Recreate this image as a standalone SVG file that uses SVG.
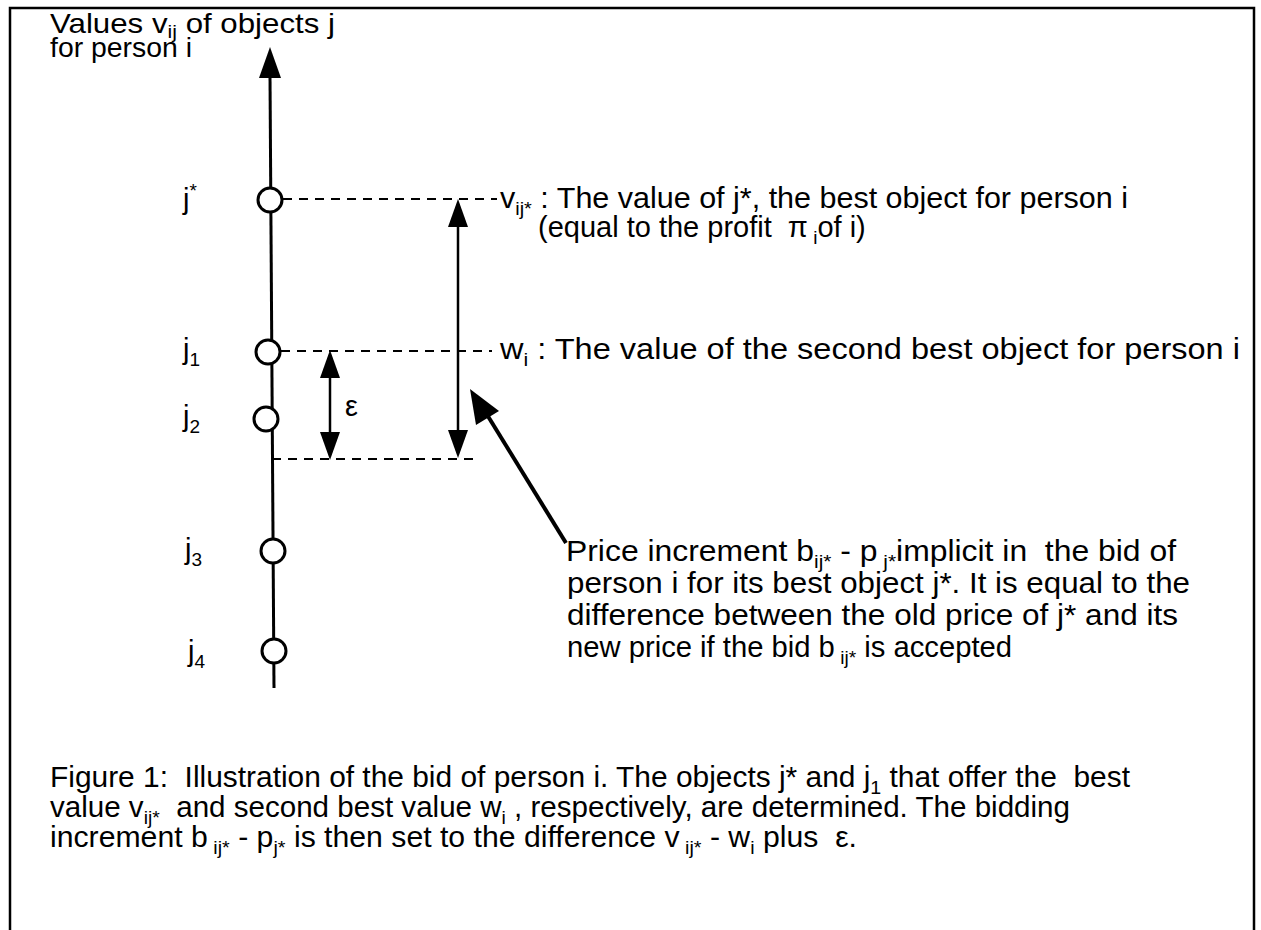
<svg xmlns="http://www.w3.org/2000/svg" width="1261" height="930" viewBox="0 0 1261 930">
<style>
text{font-family:"Liberation Sans",Arial,sans-serif;font-size:29px;fill:#000;white-space:pre}
.t{font-size:28px}
.s{font-size:19px}
.ax{stroke:#000;stroke-width:3;fill:none}
.dash{stroke:#000;stroke-width:2;stroke-dasharray:9 7;fill:none}
.node{fill:#fff;stroke:#000;stroke-width:3}
.ar{stroke:#000;stroke-width:2.5;fill:none}
</style>
<rect x="0" y="0" width="1261" height="930" fill="#fff"/>
<path d="M10,935 V8 H1254 V935" fill="none" stroke="#000" stroke-width="2.5"/>
<g id="title"><text class="t" x="50" y="33" textLength="285" lengthAdjust="spacingAndGlyphs">Values v<tspan class="s" dy="5">ij</tspan><tspan dy="-5"> of objects j</tspan></text><text class="t" x="50" y="57" textLength="142" lengthAdjust="spacingAndGlyphs">for person i</text></g>
<g id="connectors">
<path class="ax" d="M270,76 L274,688"/>
<path d="M259,78 L270,47 L281,78 Z" fill="#000"/>
<path class="dash" d="M283,199 H497"/>
<path class="dash" d="M281,351 H492"/>
<path class="dash" d="M272,459 H476"/>
<path class="ar" d="M458,225 V432"/>
<path d="M448,227 L458,199 L468,227 Z" fill="#000"/>
<path d="M448,430 L458,458 L468,430 Z" fill="#000"/>
<path class="ar" d="M330,376 V434"/>
<path d="M320,378 L330,350 L340,378 Z" fill="#000"/>
<path d="M320,432 L330,460 L340,432 Z" fill="#000"/>
<path d="M566,543 L486,413" stroke="#000" stroke-width="4" fill="none"/>
<path d="M470,389 L476,425 L499,411 Z" fill="#000"/>
</g>
<g id="n-jstar"><circle class="node" cx="270" cy="200" r="12"/><text x="183" y="209">j<tspan class="s" dy="-12">*</tspan></text></g>
<g id="n-j1"><circle class="node" cx="268" cy="352" r="12"/><text x="183" y="359">j<tspan class="s" dy="7">1</tspan></text></g>
<g id="n-j2"><circle class="node" cx="266" cy="419" r="12"/><text x="183" y="426">j<tspan class="s" dy="7">2</tspan></text></g>
<g id="n-j3"><circle class="node" cx="273" cy="551" r="12"/><text x="185" y="559">j<tspan class="s" dy="7">3</tspan></text></g>
<g id="n-j4"><circle class="node" cx="274" cy="651" r="12"/><text x="188" y="661">j<tspan class="s" dy="7">4</tspan></text></g>
<g id="labels">
<text x="500" y="208" textLength="628" lengthAdjust="spacingAndGlyphs">v<tspan class="s" dy="7">ij*</tspan><tspan dy="-7"> : The value of j*, the best object for person i</tspan></text>
<text x="538" y="237">(equal to the profit  π<tspan class="s" dy="7"> i</tspan><tspan dy="-7">of i)</tspan></text>
<text x="500" y="359" textLength="740" lengthAdjust="spacingAndGlyphs">w<tspan class="s" dy="7">i</tspan><tspan dy="-7"> : The value of the second best object for person i</tspan></text>
<text x="345" y="416">ε</text>
<text x="566" y="561" textLength="610" lengthAdjust="spacingAndGlyphs">Price increment b<tspan class="s" dy="7">ij*</tspan><tspan dy="-7"> - p</tspan><tspan class="s" dy="7"> j*</tspan><tspan dy="-7">implicit in  the bid of</tspan></text>
<text x="567" y="593" textLength="623" lengthAdjust="spacingAndGlyphs">person i for its best object j*. It is equal to the</text>
<text x="567" y="625" textLength="611" lengthAdjust="spacingAndGlyphs">difference between the old price of j* and its</text>
<text x="567" y="657" textLength="445" lengthAdjust="spacingAndGlyphs">new price if the bid b<tspan class="s" dy="7"> ij*</tspan><tspan dy="-7"> is accepted</tspan></text>
</g>
<g id="caption">
<text x="50" y="787" textLength="1080" lengthAdjust="spacingAndGlyphs">Figure 1:  Illustration of the bid of person i. The objects j* and j<tspan class="s" dy="7">1</tspan><tspan dy="-7"> that offer the  best</tspan></text>
<text x="50" y="817" textLength="1020" lengthAdjust="spacingAndGlyphs">value v<tspan class="s" dy="7">ij*</tspan><tspan dy="-7">  and second best value w</tspan><tspan class="s" dy="7">i</tspan><tspan dy="-7"> , respectively, are determined. The bidding</tspan></text>
<text x="50" y="847" textLength="807" lengthAdjust="spacingAndGlyphs">increment b<tspan class="s" dy="7"> ij*</tspan><tspan dy="-7"> - p</tspan><tspan class="s" dy="7">j*</tspan><tspan dy="-7"> is then set to the difference v</tspan><tspan class="s" dy="7"> ij*</tspan><tspan dy="-7"> - w</tspan><tspan class="s" dy="7">i</tspan><tspan dy="-7"> plus  ε.</tspan></text>
</g>
</svg>
